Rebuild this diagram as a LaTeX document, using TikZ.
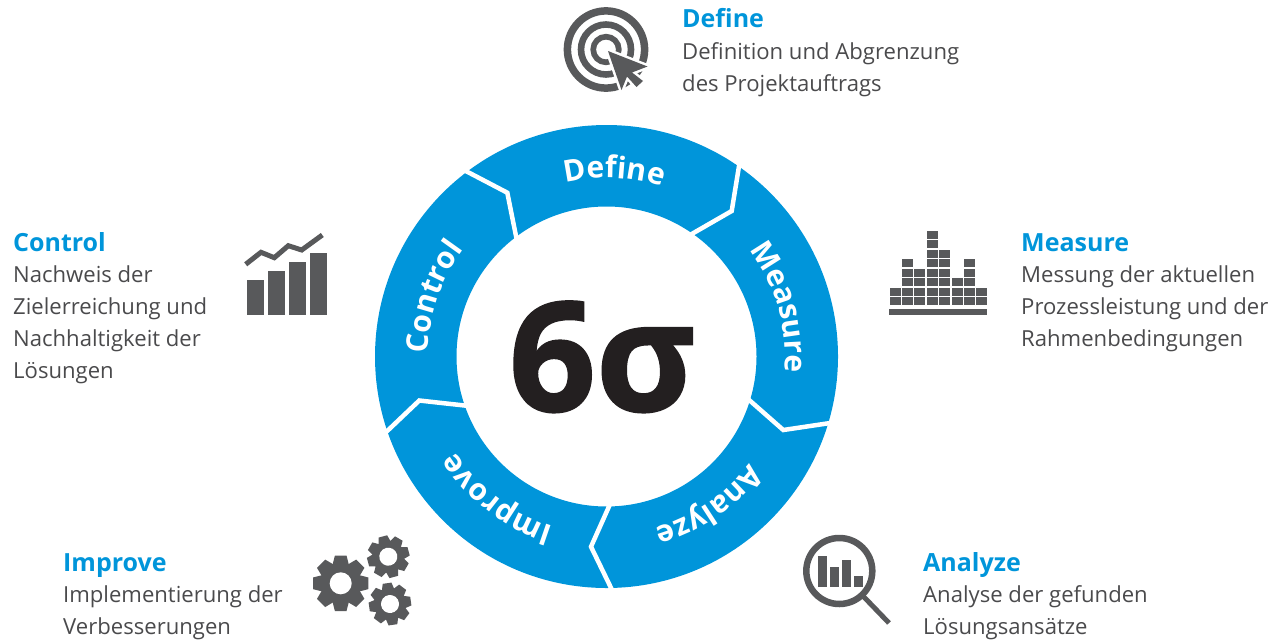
\documentclass[tikz,border=0pt]{standalone}
\usepackage{fontspec}
\setmainfont{Open Sans}
\newfontfamily\sigfont[BoldFeatures={FakeBold=1.4}]{Open Sans}
\usetikzlibrary{decorations.text}
\definecolor{ringblue}{HTML}{0095DA}
\definecolor{icongrey}{HTML}{58595B}
\definecolor{bodygrey}{HTML}{4A4A4C}
\definecolor{sigmablack}{HTML}{231F20}
\newcommand{\ringword}[2]{% mid angle, word
  \pgfmathsetmacro{\angA}{#1+70}\pgfmathsetmacro{\angB}{#1-70}
  \path[decorate,decoration={text along path,text align=center,text={|\fontsize{30}{30}\bfseries\color{white}|#2}}]
    (606.5,-356.5)++(\angA:178.5) arc[start angle=\angA,end angle=\angB,radius=178.5];}
\newcommand{\gearicon}[6]{% x,y,outer,root,hole,rot
  \begin{scope}[shift={(#1,#2)},rotate=#6]
    \fill[icongrey] (0,0) circle[radius=#4];
    \foreach \a in {0,45,...,315}{
      \fill[icongrey,rotate=\a] (#4-2,-0.3*#3) -- (#3,-0.21*#3) -- (#3,0.21*#3) -- (#4-2,0.3*#3) -- cycle;}
    \fill[white] (0,0) circle[radius=#5];
  \end{scope}}
\tikzset{
  head/.style={anchor=base west,inner sep=0pt,text=ringblue,font=\fontsize{25}{25}\selectfont\bfseries},
  body/.style={anchor=base west,inner sep=0pt,text=bodygrey,font=\fontsize{22.1}{22.1}\selectfont},
  gap/.style={draw=white,line width=4.5pt,miter limit=10,line cap=butt}
}
\begin{document}
\begin{tikzpicture}[x=1pt,y=1pt]
\useasboundingbox (0,0) rectangle (1273,-640);
% ring
\fill[ringblue,even odd rule] (606.5,-356.5) circle[radius=231.5] (606.5,-356.5) circle[radius=150];
\coordinate (a1) at (740,-160); \coordinate (a2) at (731.7,-211); \coordinate (a3) at (690,-235);
\coordinate (b1) at (835,-422.3); \coordinate (b2) at (783.3,-430); \coordinate (b3) at (748,-399);
\coordinate (c1) at (613.5,-593); \coordinate (c2) at (591,-546.7); \coordinate (c3) at (611,-502);
\coordinate (d1) at (383,-435); \coordinate (d2) at (419.3,-400.5); \coordinate (d3) at (469,-406);
\coordinate (e1) at (461,-168.5); \coordinate (e2) at (507.3,-192.7); \coordinate (e3) at (517,-241);
\foreach \s in {a,b,c,d,e}{\draw[gap] (\s1) -- (\s2) -- (\s3);}
\ringword{87.6}{Define}
\ringword{16}{Measure}
\ringword{-55.5}{Analyze}
\ringword{-127.5}{Improve}
\ringword{161}{Control}
\node[anchor=base,inner sep=0pt,text=sigmablack,font=\fontsize{152}{152}\sigfont\bfseries] (sigma) at (602,-411) {6σ};
% Define text
\node[head] (h1) at (682,-27) {Define};
\node[body] (t11) at (682,-59) {Definition und Abgrenzung};
\node[body] (t12) at (682,-91) {des Projektauftrags};
% Measure text
\node[head] (h2) at (1021,-251) {Measure};
\node[body] (t21) at (1021,-282) {Messung der aktuellen};
\node[body] (t22) at (1021,-314) {Prozessleistung und der};
\node[body] (t23) at (1021,-346) {Rahmenbedingungen};
% Analyze text
\node[head] (h3) at (923,-571) {Analyze};
\node[body] (t31) at (923,-602) {Analyse der gefunden};
\node[body] (t32) at (923,-634) {Lösungsansätze};
% Improve text
\node[head] (h4) at (63,-571) {Improve};
\node[body] (t41) at (63,-602) {Implementierung der};
\node[body] (t42) at (63,-634) {Verbesserungen};
% Control text
\node[head] (h5) at (13,-251) {Control};
\node[body] (t51) at (13,-282) {Nachweis der};
\node[body] (t52) at (13,-314) {Zielerreichung und};
\node[body] (t53) at (13,-346) {Nachhaltigkeit der};
\node[body] (t54) at (13,-378) {Lösungen};
% target icon
\draw[icongrey,line width=7.5pt] (606,-49.5) circle[radius=38.6];
\draw[icongrey,line width=6.6pt] (606,-49.5) circle[radius=25];
\draw[icongrey,line width=5.7pt] (606,-49.5) circle[radius=12.8];
\fill[icongrey,preaction={draw=white,line width=5pt,line join=miter}] (608,-51) -- (647.5,-66.5) -- (632,-72.5) -- (643,-81) -- (636.5,-87) -- (627,-76.5) -- (621.5,-90) -- cycle;
% histogram icon
\begin{scope}[shift={(880,-220)},x=1pt,y=1pt]
\fill[icongrey] (9,-89) rectangle (107,-95);
\foreach \cx/\n in {10/2,22/5,34/4,47/8,59/6,71.7/3,84/5,96/2}{
  \foreach \r [evaluate=\r as \ty using {-(85.3-(\r-1)*9.47)}] in {1,...,\n}{
    \fill[icongrey] (\cx,\ty) rectangle +(11,8.2);
  }
}
\end{scope}
% magnifier icon
\draw[icongrey,line width=6.5pt] (839.3,-571) circle[radius=33];
\draw[icongrey,line width=5pt] (863,-596) -- (889,-623);
\fill[icongrey] (818,-556) rectangle (827,-586.7);
\fill[icongrey] (830,-566.7) rectangle (839,-586.7);
\fill[icongrey] (842,-560) rectangle (851,-586.7);
\fill[icongrey] (854,-576) rectangle (863,-586.7);
% gears
\gearicon{340.7}{-583.3}{27.7}{20}{11}{0}
\gearicon{388.3}{-556.7}{21}{16}{9}{15}
\gearicon{390}{-604}{21}{16}{9}{8}
% control icon
\fill[icongrey] (247,-280) rectangle (264,-315);
\fill[icongrey] (268,-271) rectangle (285,-315);
\fill[icongrey] (289,-262) rectangle (306,-315);
\fill[icongrey] (310,-253) rectangle (327,-315);
\draw[icongrey,line width=5pt,line join=miter] (245.7,-264.3) -- (261,-252.3) -- (274.3,-257.7) -- (288.3,-245.7) -- (301.7,-250) -- (322.3,-235);
\end{tikzpicture}
\end{document}
